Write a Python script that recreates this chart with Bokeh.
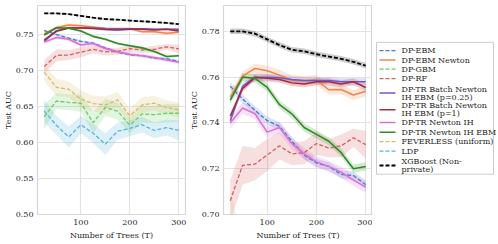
import numpy as np
from bokeh.plotting import figure
from bokeh.layouts import row
from bokeh.models import Range1d, FixedTicker, NumeralTickFormatter
from bokeh.core.properties import value
from bokeh.embed import file_html
from bokeh.resources import INLINE

trees = [25, 50, 75, 100, 125, 150, 175, 200, 225, 250, 275, 300]

names = ["DP-EBM", "DP-EBM Newton", "DP-GBM", "DP-RF",
         "DP-TR Batch Newton IH EBM (p=0.25)", "DP-TR Batch Newton IH EBM (p=1)",
         "DP-TR Newton IH", "DP-TR Newton IH EBM", "FEVERLESS (uniform)", "LDP",
         "XGBoost (Non-private)"]
legend_lines = [["DP-EBM"], ["DP-EBM Newton"], ["DP-GBM"], ["DP-RF"],
                ["DP-TR Batch Newton", "IH EBM (p=0.25)"],
                ["DP-TR Batch Newton", "IH EBM (p=1)"],
                ["DP-TR Newton IH"], ["DP-TR Newton IH EBM"], ["FEVERLESS (uniform)"],
                ["LDP"], ["XGBoost (Non-", "private)"]]

dp_ebm = [0.756, 0.7505, 0.7455, 0.741, 0.7385, 0.732, 0.726, 0.7225, 0.721, 0.7175, 0.717, 0.713]
dp_ebm_newton = [0.7514, 0.7604, 0.7638, 0.7628, 0.7609, 0.7587, 0.7584, 0.7587, 0.7545, 0.7546, 0.7522, 0.7538]
dp_gbm = [0.636, 0.658, 0.656, 0.655, 0.628, 0.649, 0.644, 0.6245, 0.640, 0.639, 0.641, 0.641]
dp_rf = [0.706, 0.7215, 0.722, 0.726, 0.730, 0.7265, 0.727, 0.731, 0.729, 0.730, 0.7335, 0.7305]
tr_p025 = [0.741, 0.756, 0.760, 0.760, 0.7597, 0.759, 0.7585, 0.7585, 0.7585, 0.758, 0.758, 0.758]
tr_p1 = [0.743, 0.755, 0.7598, 0.7595, 0.759, 0.7575, 0.757, 0.758, 0.758, 0.757, 0.758, 0.7555]
tr_newton_ih = [0.740, 0.7465, 0.744, 0.736, 0.738, 0.731, 0.7265, 0.723, 0.721, 0.7185, 0.715, 0.712]
tr_newton_ih_ebm = [0.750, 0.760, 0.7595, 0.7555, 0.748, 0.744, 0.738, 0.735, 0.732, 0.727, 0.720, 0.721]
feverless = [0.698, 0.677, 0.6745, 0.6605, 0.6545, 0.6525, 0.6595, 0.6375, 0.6525, 0.655, 0.649, 0.6458]
ldp = [0.644, 0.624, 0.608, 0.625, 0.613, 0.598, 0.616, 0.620, 0.625, 0.617, 0.621, 0.617]
xgboost = [0.780, 0.780, 0.779, 0.7765, 0.774, 0.772, 0.7713, 0.770, 0.769, 0.768, 0.7667, 0.765]

# half-width of the confidence bands
ci_dp_ebm = [0.0018] * 12
ci_dp_ebm_newton = [0.0022] * 12
ci_dp_gbm = [0.017, 0.011, 0.011, 0.012, 0.015, 0.012, 0.012, 0.011, 0.012, 0.012, 0.013, 0.012]
ci_dp_rf = [0.009, 0.0085, 0.007, 0.007, 0.006, 0.005, 0.005, 0.005, 0.004, 0.005, 0.004, 0.006]
ci_tr_p025 = [0.0015] * 12
ci_tr_p1 = [0.0015] * 12
ci_tr_newton_ih = [0.0025] * 12
ci_tr_newton_ih_ebm = [0.0018] * 12
ci_feverless = [0.012, 0.012, 0.011, 0.012, 0.011, 0.012, 0.011, 0.010, 0.011, 0.010, 0.010, 0.010]
ci_ldp = [0.016, 0.013, 0.015, 0.012, 0.013, 0.015, 0.012, 0.011, 0.011, 0.011, 0.011, 0.014]
ci_xgboost = [0.0012] * 12

series = [dp_ebm, dp_ebm_newton, dp_gbm, dp_rf, tr_p025, tr_p1, tr_newton_ih,
          tr_newton_ih_ebm, feverless, ldp, xgboost]
cis = [ci_dp_ebm, ci_dp_ebm_newton, ci_dp_gbm, ci_dp_rf, ci_tr_p025, ci_tr_p1,
       ci_tr_newton_ih, ci_tr_newton_ih_ebm, ci_feverless, ci_ldp, ci_xgboost]
colors = ["#4878d0", "#ee854a", "#6acc64", "#d65f5f", "#6a5acd", "#a52a3a",
          "#da70d6", "#2e8b22", "#d5bb67", "#56b4d9", "#000000"]
dashes = ["4 2", "solid", "4 2", "4 2", "solid", "solid", "solid", "solid", "4 2", "4 2", "4 2"]
widths = [1.3, 1.5, 1.3, 1.3, 1.5, 1.5, 1.5, 1.6, 1.3, 1.3, 1.8]

FONT = "DejaVu Serif"
TXT = "#262626"


def make_panel(width, left_border, right_border, yr, yticks):
    p = figure(width=width, height=244, output_backend="svg", toolbar_location=None,
               x_range=Range1d(11.25, 313.75), y_range=Range1d(*yr),
               min_border_left=left_border, min_border_right=right_border,
               min_border_top=5, min_border_bottom=30)
    p.background_fill_color = "white"
    p.border_fill_color = "white"
    p.outline_line_color = "#d6d6d6"
    p.outline_line_width = 1.2
    p.grid.grid_line_color = "#e3e3e3"
    p.grid.grid_line_width = 1.2
    p.xaxis.ticker = FixedTicker(ticks=[100, 200, 300])
    p.yaxis.ticker = FixedTicker(ticks=yticks)
    p.yaxis.formatter = NumeralTickFormatter(format="0.00")
    for ax in (p.xaxis[0], p.yaxis[0]):
        ax.axis_line_color = None
        ax.major_tick_line_color = None
        ax.minor_tick_line_color = None
        ax.major_tick_out = 0
        ax.major_tick_in = 0
        ax.major_label_text_font = FONT
        ax.major_label_text_font_size = "8px"
        ax.major_label_text_color = TXT
        ax.axis_label_text_font = FONT
        ax.axis_label_text_font_size = "8px"
        ax.axis_label_text_font_style = "normal"
        ax.axis_label_text_color = TXT
    p.xaxis.major_label_standoff = 5
    p.xaxis.axis_label_standoff = 3
    p.yaxis.major_label_standoff = 4
    p.yaxis.axis_label_standoff = 0
    p.yaxis.axis_label_text_line_height = 1.0
    p.xaxis.axis_label = "Number of Trees (T)"
    p.yaxis.axis_label = "Test AUC"
    x = np.array(trees, dtype=float)
    for s, c, col in zip(series, cis, colors):
        m = np.array(s)
        h = np.array(c)
        p.varea(x=x, y1=m - h, y2=m + h, fill_color=col, fill_alpha=0.2)
    for s, col, d, w in zip(series, colors, dashes, widths):
        p.line(x=x, y=s, line_color=col, line_dash=d, line_width=w)
    return p


p1 = make_panel(186, 30, 1, (0.5, 0.791), [0.50, 0.55, 0.60, 0.65, 0.70, 0.75])
p2 = make_panel(186, 30, 0, (0.70, 0.7913), [0.70, 0.72, 0.74, 0.76, 0.78])

# legend panel
lg = figure(width=126, height=244, output_backend="svg", toolbar_location=None,
            x_range=Range1d(0, 126), y_range=Range1d(244, 0),
            min_border=0, x_axis_type=None, y_axis_type=None)
lg.grid.visible = False
lg.outline_line_color = None
lg.background_fill_color = "white"
lg.border_fill_color = "white"
lg.quad(left=4, right=121, top=43, bottom=197, fill_color="white",
        line_color="#cccccc", line_width=1)
entry_y = [52.7, 63.7, 74.3, 85.3, 97.7, 117.3, 136.7, 148, 159, 170, 182.3]
for lines, col, d, w, yy in zip(legend_lines, colors, dashes, widths, entry_y):
    gy = yy + (len(lines) - 1) * 4.5
    lg.line(x=[7, 23], y=[gy, gy], line_color=col, line_dash=d, line_width=w)
    for k, t in enumerate(lines):
        lg.text(x=[29], y=[yy + k * 9.2], text=[t], text_font=value(FONT),
                text_font_size="8px", text_baseline="middle", text_color=TXT)

layout = row(p1, p2, lg)

open("out.html", "w").write(file_html(layout, INLINE))
